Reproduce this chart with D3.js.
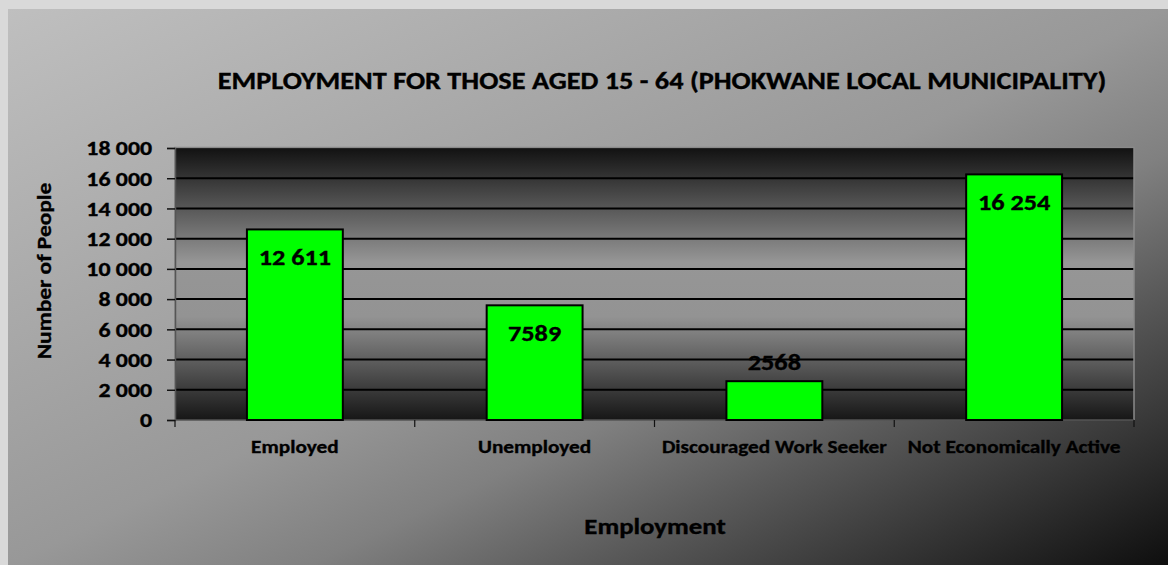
<!DOCTYPE html>
<html>
<head>
<meta charset="utf-8">
<script src="https://cdn.jsdelivr.net/npm/d3@7/dist/d3.min.js"></script>
<style>
  html, body { margin: 0; padding: 0; background: #d9d9d9; }
  svg { display: block; }
  text { font-family: Carlito, Calibri, Lato, "Open Sans", sans-serif; font-weight: bold; fill: #000;
         stroke: #000; stroke-width: 0.35px; }
</style>
</head>
<body>
<svg id="chart" width="1168" height="565"></svg>
<script>
// Employment status, population aged 15-64, Phokwane Local Municipality
const categories = ["Employed", "Unemployed", "Discouraged Work Seeker", "Not Economically Active"];
const values = [12611, 7589, 2568, 16254];
const yTickValues = [0, 2000, 4000, 6000, 8000, 10000, 12000, 14000, 16000, 18000];
const titleText = "EMPLOYMENT FOR THOSE AGED 15 - 64 (PHOKWANE LOCAL MUNICIPALITY)";
const xTitle = "Employment";
const yTitle = "Number of People";

const W = 1168, H = 565;
const plot = { left: 175, right: 1134, top: 148, bottom: 420 };

const svg = d3.select("#chart");
const defs = svg.append("defs");

// chart area: light grey fading to black towards the lower right
const bg = defs.append("linearGradient").attr("id", "bgGrad")
  .attr("x1", 0).attr("y1", 0).attr("x2", 1).attr("y2", 1);
[[0, "#bfbfbf"], [0.5, "#989898"], [0.63, "#808080"], [0.75, "#5a5a5a"], [1, "#0e0e0e"]]
  .forEach(([o, c]) => bg.append("stop").attr("offset", o).attr("stop-color", c));

// plot wall: dark at top and bottom, light in the middle
const wall = defs.append("linearGradient").attr("id", "wallGrad")
  .attr("x1", 0).attr("y1", 0).attr("x2", 0).attr("y2", 1);
[[0, "#121212"], [0.42, "#969696"], [0.62, "#939393"], [1, "#161616"]]
  .forEach(([o, c]) => wall.append("stop").attr("offset", o).attr("stop-color", c));

svg.append("rect").attr("x", 8).attr("y", 9).attr("width", W - 8).attr("height", H - 9)
  .attr("fill", "url(#bgGrad)");

const x = d3.scaleBand().domain(categories)
  .range([plot.left, plot.right]).paddingInner(0.6).paddingOuter(0.3);
const y = d3.scaleLinear().domain([0, 18000]).range([plot.bottom, plot.top]);

const fmtSpace = d3.formatLocale({ decimal: ".", thousands: " ", grouping: [3], currency: ["", ""] }).format(",");
const fmtLabel = v => v >= 10000 ? fmtSpace(v) : String(v);

// place a text at (tx, ty), widened horizontally by sx
function placeText(sel, tx, ty, sx, rot) {
  sel.attr("x", 0).attr("y", 0)
    .attr("transform", (d, i) => {
      const px = typeof tx === "function" ? tx(d, i) : tx;
      const py = typeof ty === "function" ? ty(d, i) : ty;
      return `translate(${px},${py})` + (rot ? ` rotate(${rot})` : "") + ` scale(${sx},1)`;
    });
  return sel;
}

// wall
svg.append("rect")
  .attr("x", plot.left).attr("y", plot.top)
  .attr("width", plot.right - plot.left).attr("height", plot.bottom - plot.top)
  .attr("fill", "url(#wallGrad)");

// gridlines
svg.append("g").selectAll("line").data(yTickValues.filter(d => d > 0)).join("line")
  .attr("x1", plot.left).attr("x2", plot.right)
  .attr("y1", d => y(d)).attr("y2", d => y(d))
  .attr("stroke", "#000").attr("stroke-width", 2);

// wall border (top/left/right)
svg.append("path")
  .attr("d", `M${plot.left},${plot.bottom}V${plot.top - 0.5}H${plot.right}V${plot.bottom}`)
  .attr("fill", "none").attr("stroke", "#8a8a8a").attr("stroke-width", 1.5);

// y axis
const yAxis = d3.axisLeft(y).tickValues(yTickValues).tickFormat(fmtSpace).tickSize(8).tickPadding(15);
const gy = svg.append("g").attr("transform", `translate(${plot.left},0)`).call(yAxis);
gy.select(".domain").attr("stroke", "#555").attr("stroke-width", 1.5);
gy.selectAll(".tick line").attr("stroke", "#111").attr("stroke-width", 1.5);
gy.selectAll(".tick text").style("font-size", "20px").attr("dy", null)
  .attr("dominant-baseline", "central")
  .attr("x", 0).attr("transform", "translate(-23,0) scale(1.19,1)");

// x axis with ticks on category boundaries
const gx = svg.append("g").attr("transform", `translate(0,${plot.bottom})`);
gx.append("line").attr("x1", plot.left).attr("x2", plot.right).attr("y1", 0).attr("y2", 0)
  .attr("stroke", "#555").attr("stroke-width", 1.5);
const boundaryX = i => plot.left + i * (plot.right - plot.left) / categories.length;
gx.selectAll("line.b").data(d3.range(categories.length + 1)).join("line").attr("class", "b")
  .attr("x1", boundaryX).attr("x2", boundaryX)
  .attr("y1", 0).attr("y2", 7).attr("stroke", "#111").attr("stroke-width", 1.2);
placeText(
  gx.selectAll("text").data(categories).join("text")
    .attr("text-anchor", "middle").style("font-size", "19px").text(d => d),
  d => x(d) + x.bandwidth() / 2, 33, 1.12);

// bars
svg.append("g").selectAll("rect").data(values).join("rect")
  .attr("x", (d, i) => x(categories[i]))
  .attr("y", d => y(d))
  .attr("width", x.bandwidth())
  .attr("height", d => y(0) - y(d))
  .attr("fill", "#00ff00").attr("stroke", "#000").attr("stroke-width", 2);

// value labels: inside the top of tall bars, above short ones
placeText(
  svg.append("g").selectAll("text").data(values).join("text")
    .attr("text-anchor", "middle").style("font-size", "23px").text(fmtLabel),
  (d, i) => x(categories[i]) + x.bandwidth() / 2,
  d => (y(0) - y(d) > 60) ? y(d) + 36 : y(d) - 11, 1.14);

// titles
placeText(svg.append("text").attr("text-anchor", "middle").style("font-size", "24.5px").text(titleText),
  662, 89, 1.155);
placeText(svg.append("text").attr("text-anchor", "middle").style("font-size", "22.5px").text(xTitle),
  655, 534, 1.19);
placeText(svg.append("text").attr("text-anchor", "middle").style("font-size", "20px").text(yTitle),
  51, 271, 1.17, -90);
</script>
</body>
</html>
